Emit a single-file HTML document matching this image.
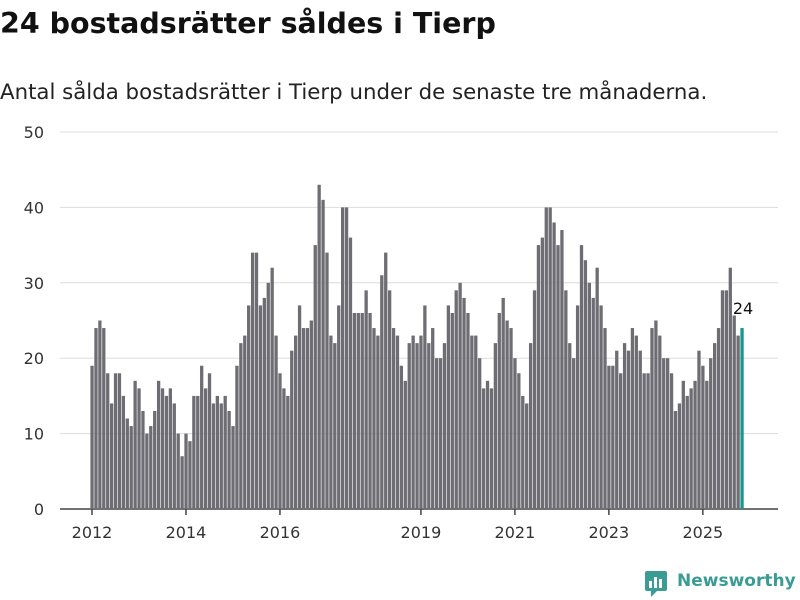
<!DOCTYPE html>
<html><head><meta charset="utf-8"><style>
body{margin:0;width:800px;height:600px;background:#fff;font-family:"DejaVu Sans","Liberation Sans",sans-serif;overflow:hidden;position:relative}
#title{position:absolute;left:0;top:7px;font-size:28.5px;font-weight:bold;color:#111;margin:0;white-space:nowrap}
#sub{position:absolute;left:0;top:80px;font-size:21.3px;color:#222;white-space:nowrap}
svg{position:absolute;left:0;top:0}
#logo{position:absolute;left:645px;top:571px;font-size:17px;font-weight:bold;color:#3a9c94;white-space:nowrap}
</style></head><body>
<h1 id="title">24 bostadsrätter såldes i Tierp</h1>
<div id="sub">Antal sålda bostadsrätter i Tierp under de senaste tre månaderna.</div>
<svg id="chart" width="800" height="600"></svg>
<div id="logo"><svg width="24" height="26" style="position:absolute;left:0;top:0px"><rect x="0" y="0" width="22" height="20" rx="2" fill="#3a9c94"/><polygon points="6,20 12,20 6,26" fill="#3a9c94"/><rect x="4" y="10" width="3" height="7" fill="#fff"/><rect x="9" y="6" width="3" height="11" fill="#fff"/><rect x="14" y="8" width="3" height="9" fill="#fff"/></svg><span style="margin-left:32px">Newsworthy</span></div>
<script>
const values=[19,24,25,24,18,14,18,18,15,12,11,17,
16,13,10,11,13,17,16,15,16,14,10,7,
10,9,15,15,19,16,18,14,15,14,15,13,
11,19,22,23,27,34,34,27,28,30,32,23,
18,16,15,21,23,27,24,24,25,35,43,41,
34,23,22,27,40,40,36,26,26,26,29,26,
24,23,31,34,29,24,23,19,17,22,23,22,
23,27,22,24,20,20,22,27,26,29,30,28,
26,23,23,20,16,17,16,22,26,28,25,24,
20,18,15,14,22,29,35,36,40,40,38,35,
37,29,22,20,27,35,33,30,28,32,27,24,19,19,21,18,22,21,24,23,21,18,18,24,25,23,20,20,18,13,14,17,15,16,17,21,19,17,20,22,24,29,29,32,26,23,24];
const yTicks=[0,10,20,30,40,50];
const xTickLabels=["2012","2014","2016","2019","2021","2023","2025"];
const xTickIdx=[0,24,48,84,108,132,156];
const NS="http://www.w3.org/2000/svg";
const svg=document.getElementById('chart');
const n=values.length;
const x=i=>92+i*(650/(n-1));
const y=v=>509-v*(377/50);
function mk(t,a){const e=document.createElementNS(NS,t);for(const k in a)e.setAttribute(k,a[k]);svg.appendChild(e);return e;}
yTicks.forEach(t=>{
 const g=mk('line',{x1:60,x2:778,y1:y(t),y2:y(t),stroke:t===0?'#444':'#ddd','stroke-width':t===0?1.5:1});
 
 
 const l=mk('text',{x:44,y:y(t)+6,'text-anchor':'end','font-size':16,fill:'#333','font-family':'DejaVu Sans, sans-serif'});
 l.textContent=t;
 
 
});
values.forEach((v,i)=>{
 const last=i===n-1;
 const r=mk('rect',{x:x(i)-1.6,y:y(v),width:3.3,height:y(0)-y(v),fill:last?'#15998e':'#6e6d73'});
 
 
});
xTickIdx.forEach((m,k)=>{
 const t=mk('line',{x1:x(m),x2:x(m),y1:509,y2:515,stroke:'#444','stroke-width':1.5});
 
 
 const l=mk('text',{x:x(m),y:538,'text-anchor':'middle','font-size':16,fill:'#333','font-family':'DejaVu Sans, sans-serif'});
 l.textContent=xTickLabels[k];
 
 
});
const lab=mk('text',{x:x(n-1)+1,y:y(values[n-1])-14,'text-anchor':'middle','font-size':16,fill:'#111',stroke:'#fff','stroke-width':3,'paint-order':'stroke','font-family':'DejaVu Sans, sans-serif'});
lab.textContent=values[n-1];


</script>
</body></html>
